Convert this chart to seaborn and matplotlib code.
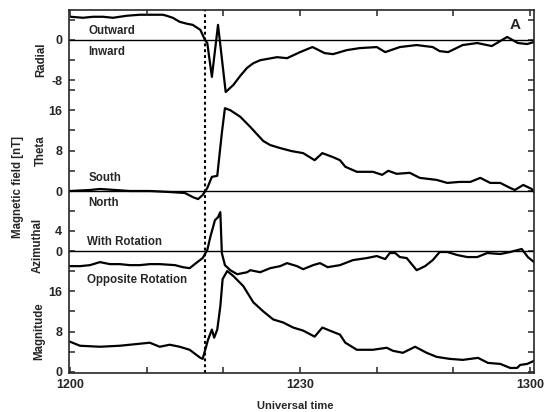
import matplotlib
matplotlib.use("Agg")
import matplotlib.pyplot as plt
import seaborn as sns
import numpy as np

sns.set_style("ticks")
plt.rcParams['font.family'] = ['Liberation Sans', 'DejaVu Sans']
plt.rcParams['font.weight'] = 'bold'
plt.rcParams['axes.labelweight'] = 'bold'

# ---------------- data (minutes after 1200 UT, nT) ----------------
radial_t = [0.1, 1.7, 3.0, 4.3, 5.6, 7.4, 9.1, 10.8, 12.1, 12.6, 13.4, 14.3, 15.3, 16.0,
            17.0, 17.6, 17.9, 18.5, 19.3, 20.3, 21.3, 22.2, 23.1, 23.9, 24.8, 27.0, 28.3,
            30.0, 31.6, 31.9, 33.2, 34.3, 36.1, 37.8, 40.0, 41.1, 43.0, 45.2, 47.3, 48.2,
            49.3, 51.2, 53.1, 55.0, 57.0, 58.4, 59.6, 60.5]
radial_v = [4.6, 4.4, 4.6, 4.6, 4.4, 4.8, 5.0, 5.0, 5.0, 4.8, 4.4, 3.6, 3.2, 3.0,
            2.0, 0.0, -0.6, -7.3, 3.0, -10.3, -8.9, -7.1, -5.5, -4.6, -4.0, -3.4, -3.6,
            -2.4, -1.4, -1.6, -2.6, -2.8, -2.0, -1.6, -1.4, -2.4, -1.4, -1.0, -1.4, -2.2,
            -2.4, -1.0, -0.6, -1.2, 0.6, -0.6, -0.8, -0.4]

theta_t = [0.0, 2.6, 3.9, 5.9, 7.8, 10.4, 13.0, 15.0, 16.0, 16.7, 17.3, 17.9, 18.5, 19.2,
           19.8, 20.2, 20.9, 22.2, 23.5, 25.2, 26.1, 27.4, 28.9, 30.4, 31.9, 32.9, 34.3,
           35.2, 35.9, 37.4, 39.5, 40.7, 41.5, 42.6, 44.3, 45.6, 47.8, 49.2, 50.8, 52.2,
           53.5, 54.8, 56.1, 57.4, 58.0, 59.1, 60.2, 60.5]
theta_v = [0.0, 0.2, 0.4, 0.2, 0.0, 0.0, -0.2, -0.4, -1.2, -1.6, -0.8, 0.6, 2.8, 3.0,
           11.5, 16.4, 16.0, 14.7, 12.7, 9.9, 9.1, 8.5, 7.9, 7.5, 6.1, 7.5, 6.7,
           6.1, 4.8, 3.8, 3.8, 3.2, 4.0, 3.4, 3.6, 2.6, 2.2, 1.6, 1.8, 1.8,
           2.6, 1.6, 1.6, 0.6, 0.2, 1.2, 0.4, -0.2]

azim_t = [0.0, 1.3, 2.6, 3.9, 5.2, 6.5, 7.8, 9.1, 10.4, 11.7, 13.7, 14.7, 15.6, 16.6,
          17.3, 17.9, 18.3, 18.9, 19.3, 19.6, 19.8, 20.2, 20.9, 21.8, 23.1, 23.5, 24.8,
          26.1, 27.4, 28.3, 29.6, 30.4, 31.7, 32.6, 33.6, 35.2, 36.9, 38.7, 40.0, 41.1,
          41.7, 42.4, 43.0, 43.9, 45.2, 46.3, 47.3, 48.2, 49.2, 50.5, 51.8, 53.1, 54.4,
          56.1, 57.4, 58.9, 59.7, 60.5]
azim_v = [-3.0, -3.0, -2.8, -2.2, -2.6, -2.6, -2.8, -2.8, -2.6, -2.6, -2.8, -3.2, -3.4, -2.2,
          -1.4, 0.2, 2.8, 6.1, 6.7, 7.7, -0.4, -2.8, -3.8, -4.6, -4.2, -3.8, -4.2,
          -3.4, -3.0, -2.4, -3.0, -3.6, -2.8, -2.4, -3.2, -2.8, -1.8, -1.4, -1.0, -1.6,
          -0.4, -0.4, -1.2, -1.4, -3.8, -3.0, -1.8, -0.2, -0.2, -0.8, -1.2, -1.2, -0.4,
          -0.6, -0.2, 0.4, -1.2, -2.2]

mag_t = [0.0, 1.3, 3.9, 6.5, 9.1, 10.4, 11.7, 13.0, 14.3, 15.6, 17.0, 17.3, 18.0, 18.5,
         18.8, 19.2, 19.6, 19.9, 20.5, 21.3, 22.6, 23.9, 25.2, 26.5, 27.8, 29.1, 30.4,
         31.9, 32.9, 34.2, 35.2, 35.9, 37.4, 39.5, 41.3, 42.1, 43.4, 45.0, 46.5, 47.8,
         49.5, 51.2, 53.2, 54.5, 56.1, 57.4, 58.3, 58.7, 59.6, 60.5]
mag_v = [6.0, 5.2, 5.0, 5.2, 5.6, 5.8, 5.0, 5.4, 5.0, 4.4, 2.8, 2.6, 6.4, 8.4,
         6.8, 8.4, 13.0, 18.4, 20.0, 19.0, 17.0, 13.8, 12.0, 10.4, 9.8, 8.8, 8.2,
         7.0, 8.8, 8.0, 7.4, 5.8, 4.4, 4.4, 4.8, 4.2, 3.8, 5.0, 3.8, 3.0,
         2.6, 2.4, 2.8, 1.8, 1.6, 0.8, 0.8, 1.4, 1.6, 2.2]

event_t = 17.6
xtick_pos = [0, 30, 60]
xtick_labels = ["1200", "1230", "1300"]

panels = [
    # name, t, v, zero-pixel, labelled ticks, labels, minor ticks
    ("Radial", radial_t, radial_v, 40, [0, -8], ["0", "-8"], [4, -4]),
    ("Theta", theta_t, theta_v, 191, [0, 8, 16], ["0", "8", "16"], [4, 12, 20]),
    ("Azimuthal", azim_t, azim_v, 251, [0, 4], ["0", "4"], [-4, 8]),
    ("Magnitude", mag_t, mag_v, 372, [0, 8, 16], ["0", "8", "16"], [4, 12]),
]

# ---------------- layout ----------------
W, H = 546, 412
fig = plt.figure(figsize=(W / 100, H / 100), dpi=100)
ax_left, ax_right, ax_top, ax_bot = 69, 534, 10, 373
rect = [ax_left / W, 1 - ax_bot / H, (ax_right - ax_left) / W, (ax_bot - ax_top) / H]
px_per_nT = 5.05
yrange = (ax_bot - ax_top) / px_per_nT
xlim = (-0.13, 60.5)

axes = []
for i, (name, t, v, zpx, lt, ll, mt) in enumerate(panels):
    ax = fig.add_axes(rect, label=name)
    ax.set_facecolor("none")
    lo = -(ax_bot - zpx) / px_per_nT
    ax.set_xlim(*xlim)
    ax.set_ylim(lo, lo + yrange)
    sns.lineplot(x=t, y=v, ax=ax, color="black", lw=1.6, estimator=None, sort=False)
    if name != "Magnitude":
        ax.axhline(0, color="black", lw=1.0)
    ticks = sorted(lt + mt)
    ax.set_yticks(ticks)
    ax.set_yticklabels([ll[lt.index(k)] if k in lt else "" for k in ticks])
    ax.tick_params(axis="y", direction="in", length=4, width=1.1, left=True, right=True,
                   labelsize=9, pad=5)
    ax.set_xlabel("")
    ax.set_ylabel("")
    last = (name == "Magnitude")
    for s in ax.spines.values():
        s.set_visible(last)
        s.set_linewidth(1.2)
    if last:
        ax.set_xticks(np.arange(0, 61, 10))
        ax.set_xticklabels([xtick_labels[xtick_pos.index(k)] if k in xtick_pos else ""
                            for k in range(0, 61, 10)])
        ax.tick_params(axis="x", direction="in", length=4, width=1.1, top=True,
                       bottom=True, labelsize=9, pad=4)
        ax.axvline(event_t, color="black", lw=1.5, ls=(0, (1.4, 1.4)))
    else:
        ax.set_xticks([])
    axes.append(ax)

ax_r, ax_th, ax_az, ax_m = axes
fs = 8.3
ax_r.text(2.4, 1.8, "Outward", fontsize=fs, va="center", ha="left")
ax_r.text(2.4, -2.4, "Inward", fontsize=fs, va="center", ha="left")
ax_th.text(2.4, 2.6, "South", fontsize=fs, va="center", ha="left")
ax_th.text(2.4, -2.4, "North", fontsize=fs, va="center", ha="left")
ax_az.text(2.2, 1.8, "With Rotation", fontsize=fs, va="center", ha="left")
ax_az.text(2.2, -5.7, "Opposite Rotation", fontsize=fs, va="center", ha="left")
ax_m.text(0.959, 0.959, "A", transform=ax_m.transAxes, fontsize=11, fontweight="bold",
          ha="center", va="center")

def ftext(x, y, s, **kw):
    fig.text(x / W, 1 - y / H, s, rotation=90, ha="center", va="center",
             fontsize=fs, fontweight="bold", **kw)

ftext(41, 60, "Radial")
ftext(41, 151, "Theta")
ftext(38, 245, "Azimuthal")
ftext(39, 331, "Magnitude")
ftext(18, 187, "Magnetic field [nT]")
fig.text(295 / W, 1 - 406 / H, "Universal time", ha="center", va="center",
         fontsize=8, fontweight="bold")

fig.savefig("out.png", dpi=100)
